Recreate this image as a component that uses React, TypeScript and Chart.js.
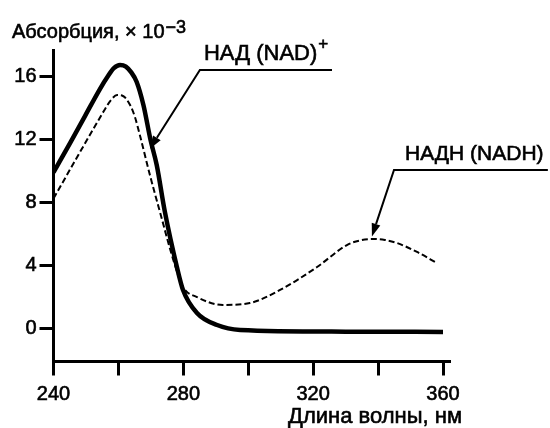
import { useEffect, useRef } from 'react';
import { Chart, registerables } from 'chart.js';

Chart.register(...registerables);

// ---- data ----
const nadWavelengths = [240, 245.1, 249.7, 254.3, 256.8, 258.6, 260.5, 262.3, 263.9, 265.6, 267.7, 269.9, 271.8, 274.3, 278.0, 279.9, 284.2, 290.4, 297.5, 330, 360];
const nadAbsorbance = [9.9, 11.76, 13.47, 15.18, 16.0, 16.5, 16.7, 16.6, 16.25, 15.64, 14.17, 11.95, 10.37, 7.42, 3.94, 2.47, 1.01, 0.25, -0.06, -0.17, -0.19];

const nadhWavelengths = [240, 246.6, 252.8, 255.9, 257.7, 259.6, 261.4, 263.6, 265.1, 266.6, 269.7, 272.8, 277.1, 279.9, 284.2, 292.2, 300.5, 309.8, 321.2, 330.4, 334.4, 338.4, 342.1, 345.8, 352.0, 358.1];
const nadhAbsorbance = [8.25, 10.63, 12.84, 13.92, 14.48, 14.8, 14.74, 14.17, 13.4, 12.27, 9.74, 7.4, 4.24, 2.66, 2.02, 1.52, 1.64, 2.47, 3.92, 5.31, 5.6, 5.69, 5.63, 5.44, 4.87, 4.17];

const xTickValues = [240, 260, 280, 300, 320, 340, 360];
const xLabelledTicks = [240, 280, 320, 360];
const yTickValues = [0, 4, 8, 12, 16];

const xRange = [240, 362];
const yRange = [-2.06, 17.65];

const yAxisTitle = 'Абсорбция, × 10';
const yAxisTitleExp = '−3';
const xAxisTitle = 'Длина волны, нм';
const nadLabel = 'НАД (NAD)';
const nadLabelSup = '+';
const nadhLabel = 'НАДН (NADH)';

// annotation anchors in data units: [lineStartX, lineStartY, tipX, tipY, underlineEndX]
const nadArrow = [285.1, 16.38, 269.7, 11.4, 325.8];
const nadhArrow = [344.9, 10.06, 338.1, 5.85, 392.3];

const FONT = '"Liberation Sans", Arial, Helvetica, sans-serif';
const TEXT_STROKE = 0.6;

const annotationPlugin = {
  id: 'annotations',
  afterDraw(chart: any) {
    const { ctx, scales } = chart;
    const xs = scales.x;
    const ys = scales.y;
    ctx.save();
    ctx.fillStyle = '#000';
    ctx.strokeStyle = '#000';
    ctx.textBaseline = 'alphabetic';
    ctx.textAlign = 'left';

    const text = (s: string, x: number, y: number) => {
      ctx.fillText(s, x, y);
      ctx.lineWidth = TEXT_STROKE;
      ctx.strokeText(s, x, y);
    };

    // y axis title with exponent
    ctx.font = `20px ${FONT}`;
    text(yAxisTitle, 12, 38);
    const tw = ctx.measureText(yAxisTitle).width;
    ctx.font = `18px ${FONT}`;
    text(yAxisTitleExp, 12 + tw + 1, 33);

    // x axis title
    ctx.font = `22px ${FONT}`;
    text(xAxisTitle, 288, 423);

    const drawArrow = (a: number[], label: string, sup: string, textDx: number, textDy: number, size: number) => {
      const sx = xs.getPixelForValue(a[0]);
      const sy = ys.getPixelForValue(a[1]);
      const tx = xs.getPixelForValue(a[2]);
      const ty = ys.getPixelForValue(a[3]);
      const ex = xs.getPixelForValue(a[4]);
      ctx.lineWidth = 2;
      ctx.beginPath();
      ctx.moveTo(ex, sy);
      ctx.lineTo(sx, sy);
      const ang = Math.atan2(ty - sy, tx - sx);
      const headLen = 13;
      const bx = tx - Math.cos(ang) * headLen;
      const by = ty - Math.sin(ang) * headLen;
      ctx.lineTo(bx, by);
      ctx.stroke();
      const hw = 4.5;
      ctx.beginPath();
      ctx.moveTo(tx, ty);
      ctx.lineTo(bx + Math.sin(ang) * hw, by - Math.cos(ang) * hw);
      ctx.lineTo(bx - Math.sin(ang) * hw, by + Math.cos(ang) * hw);
      ctx.closePath();
      ctx.fill();
      ctx.font = `${size}px ${FONT}`;
      text(label, sx + textDx, sy + textDy);
      if (sup) {
        const lw = ctx.measureText(label).width;
        ctx.font = `17px ${FONT}`;
        text(sup, sx + textDx + lw + 1, sy + textDy - 11);
      }
    };
    drawArrow(nadArrow, nadLabel, nadLabelSup, 4, -10, 22);
    drawArrow(nadhArrow, nadhLabel, '', 11, -10, 21);
    ctx.restore();
  },
};

export default function App() {
  const ref = useRef<HTMLCanvasElement | null>(null);
  useEffect(() => {
    if (!ref.current) return;
    const chart = new Chart(ref.current, {
      type: 'line',
      data: {
        datasets: [
          {
            label: 'NAD+',
            data: nadWavelengths.map((x, i) => ({ x, y: nadAbsorbance[i] })),
            borderColor: '#000',
            borderWidth: 4.5,
            pointRadius: 0,
            cubicInterpolationMode: 'monotone',
            fill: false,
          },
          {
            label: 'NADH',
            data: nadhWavelengths.map((x, i) => ({ x, y: nadhAbsorbance[i] })),
            borderColor: '#000',
            borderWidth: 2,
            borderDash: [6, 3],
            pointRadius: 0,
            cubicInterpolationMode: 'monotone',
            fill: false,
          },
        ],
      },
      options: {
        animation: false,
        responsive: false,
        devicePixelRatio: 1,
        layout: { padding: { top: 50, right: 100.5, left: 0, bottom: 0 } },
        plugins: { legend: { display: false }, tooltip: { enabled: false }, title: { display: false } },
        scales: {
          x: {
            type: 'linear',
            min: xRange[0],
            max: xRange[1],
            afterBuildTicks: (s: any) => {
              s.ticks = xTickValues.map((v) => ({ value: v }));
            },
            afterFit: (s: any) => {
              s.height = 66.5;
            },
            ticks: {
              autoSkip: false,
              maxRotation: 0,
              color: '#000',
              textStrokeColor: '#000',
              textStrokeWidth: TEXT_STROKE,
              padding: 7,
              font: { family: FONT, size: 20 },
              callback: (v: any) => (xLabelledTicks.includes(Number(v)) ? String(v) : ''),
            },
            grid: { drawOnChartArea: false, drawTicks: true, tickLength: 14, lineWidth: 3, color: '#000' },
            border: { display: true, color: '#000', width: 3 },
          },
          y: {
            type: 'linear',
            min: yRange[0],
            max: yRange[1],
            afterBuildTicks: (s: any) => {
              s.ticks = yTickValues.map((v) => ({ value: v }));
            },
            afterFit: (s: any) => {
              s.width = 53.5;
            },
            ticks: {
              color: '#000',
              textStrokeColor: '#000',
              textStrokeWidth: TEXT_STROKE,
              padding: 3,
              font: { family: FONT, size: 20 },
              callback: (v: any) => String(v),
            },
            grid: { drawOnChartArea: false, drawTicks: true, tickLength: 14, lineWidth: 3, color: '#000' },
            border: { display: true, color: '#000', width: 3 },
          },
        },
      },
      plugins: [annotationPlugin],
    } as any);
    return () => chart.destroy();
  }, []);
  return (
    <div style={{ position: 'absolute', left: 0, top: 0, width: 550, height: 428, background: '#fff' }}>
      <canvas ref={ref} width={550} height={428} />
    </div>
  );
}
